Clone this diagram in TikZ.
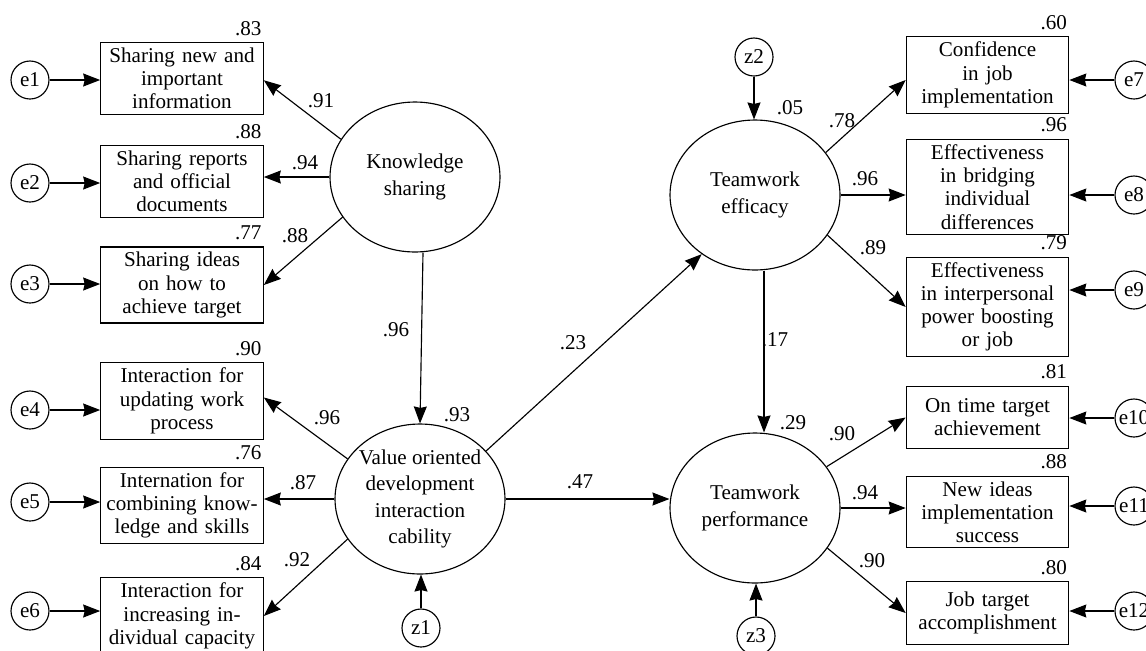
\documentclass[tikz,border=0pt]{standalone}
\usepackage{fontspec}
\setmainfont{Liberation Serif}
\usetikzlibrary{shapes.geometric,arrows.meta}
\tikzset{
	latente/.style={draw,ellipse,minimum width=3.4cm,minimum height=3cm,inner sep=-2pt,align=center,font=\fontsize{12}{15}\selectfont},
	mesure/.style={draw,rectangle,text width=3.04cm,inner sep=3pt,minimum height=1.25cm,align=center,font=\fontsize{12}{13.2}\selectfont},
	erreur/.style={draw,circle,minimum size=0.76cm,inner sep=0pt,font=\fontsize{12}{13}\selectfont},
	coef/.style={inner sep=1pt,font=\fontsize{12}{13}\selectfont},
	rdeux/.style={anchor=base east,inner sep=0pt,font=\fontsize{12}{13}\selectfont},
	fleche/.style={-{Stealth[length=0.34cm,width=0.26cm,inset=0.03cm]}}
}
\begin{document}
\begin{tikzpicture}[x=0.02cm,y=-0.02cm,line width=0.65pt]
\useasboundingbox (0,0) rectangle (1146,650);
%					Variables latentes :
\node[latente] (KS) at (415,177) {Knowledge\\sharing};
\node[latente] (VOD) at (420,499) {Value oriented\\development\\interaction\\cability};
\node[latente] (TE) at (755,195) {Teamwork\\efficacy};
\node[latente] (TP) at (755,508) {Teamwork\\performance};
%					Variables mesurees (gauche) :
\node[mesure] (x1) at (182,78.5) {Sharing new and\\important\\information};
\node[mesure] (x2) at (182,181.5) {Sharing reports\\and official\\documents};
\node[mesure] (x3) at (182,285) {Sharing ideas\\on how to\\achieve target};
\node[mesure] (x4) at (182,401) {Interaction for\\updating work\\process};
\node[mesure] (x5) at (182,505.5) {Internation for\\combining know-\\ledge and skills};
\node[mesure] (x6) at (182,616) {Interaction for\\increasing in-\\dividual capacity};
%					Variables mesurees (droite) :
\node[mesure] (x7) at (987.5,75) {Confidence\\in job\\implementation};
\node[mesure] (x8) at (987.5,187) {Effectiveness\\in bridging\\individual\\differences};
\node[mesure] (x9) at (987.5,307) {Effectiveness\\in interpersonal\\power boosting\\or job};
\node[mesure] (x10) at (987.5,417.5) {On time target\\achievement};
\node[mesure] (x11) at (987.5,512) {New ideas\\implementation\\success};
\node[mesure] (x12) at (987.5,613) {Job target\\accomplishment};
%					Erreurs :
\foreach \i/\y in {1/80,2/183,3/284,4/410,5/502,6/611}{
	\node[erreur] (e\i) at (30,\y) {e\i};
	\draw[fleche] (e\i) -- (e\i -| x\i.west);
}
\foreach \i/\y in {7/80,8/195,9/290,10/418,11/506,12/611}{
	\node[erreur] (e\i) at (1134,\y) {e\i};
	\draw[fleche] (e\i) -- (e\i -| x\i.east);
}
\node[erreur] (z1) at (421,628) {z1};
\node[erreur] (z2) at (754,57) {z2};
\node[erreur] (z3) at (756,636) {z3};
\draw[fleche] (z1) -- (z1 |- VOD.south);
\draw[fleche] (z2) -- (z2 |- TE.north);
\draw[fleche] (z3) -- (z3 |- TP.south);
%					Saturations :
\draw[fleche] (KS.153) -- ([yshift=-1pt]x1.east);
\draw[fleche] (KS.west) -- (KS.west -| x2.east);
\draw[fleche] (KS.209) -- (x3.east);
\draw[fleche] (VOD.151) -- ([yshift=2pt]x4.east);
\draw[fleche] (VOD.west) -- (VOD.west -| x5.east);
\draw[fleche] (VOD.209) -- (x6.east);
\draw[fleche] (TE.31) -- (x7.west |- e7);
\draw[fleche] (TE.east) -- (TE.east -| x8.west);
\draw[fleche] (TE.-29) -- (x9.west);
\draw[fleche] (TP.30) -- (x10.west);
\draw[fleche] (TP.east) -- (TP.east -| x11.west);
\draw[fleche] (TP.-29) -- (x12.west);
%					Chemins structurels :
\draw[fleche] ([xshift=0.16cm]KS.south) -- (VOD.north);
\draw[fleche] (VOD.36) -- (TE.228);
\draw[fleche] (VOD.east) -- (VOD.east -| TP.west);
\draw[fleche] ([xshift=0.18cm]TE.south) -- ([xshift=0.18cm]TP.north);
%					Coefficients :
\foreach \n/\x/\y/\t in {1/321/101/.91,2/305/163/.94,3/295/236/.88,4/396/330/.96,
	5/457/415/.93,6/327/418/.96,7/303/483/.87,8/297/560/.92,9/573/343/.23,10/580/482/.47,
	11/790/108/.05,12/842/121/.78,13/865/179/.96,14/873/248/.89,15/775/340/.17,
	16/793/423/.29,17/842/434/.90,18/865/493/.94,19/872/561/.90}
	\node[coef] (c\n) at (\x,\y) {\t};
\foreach \i/\t in {1/.83,2/.88,3/.77,4/.90,5/.76,6/.84,7/.60,8/.96,9/.79,10/.81,11/.88,12/.80}
	\node[rdeux] (r\i) at ([xshift=-1pt,yshift=4pt]x\i.north east) {\t};
\end{tikzpicture}
\end{document}
